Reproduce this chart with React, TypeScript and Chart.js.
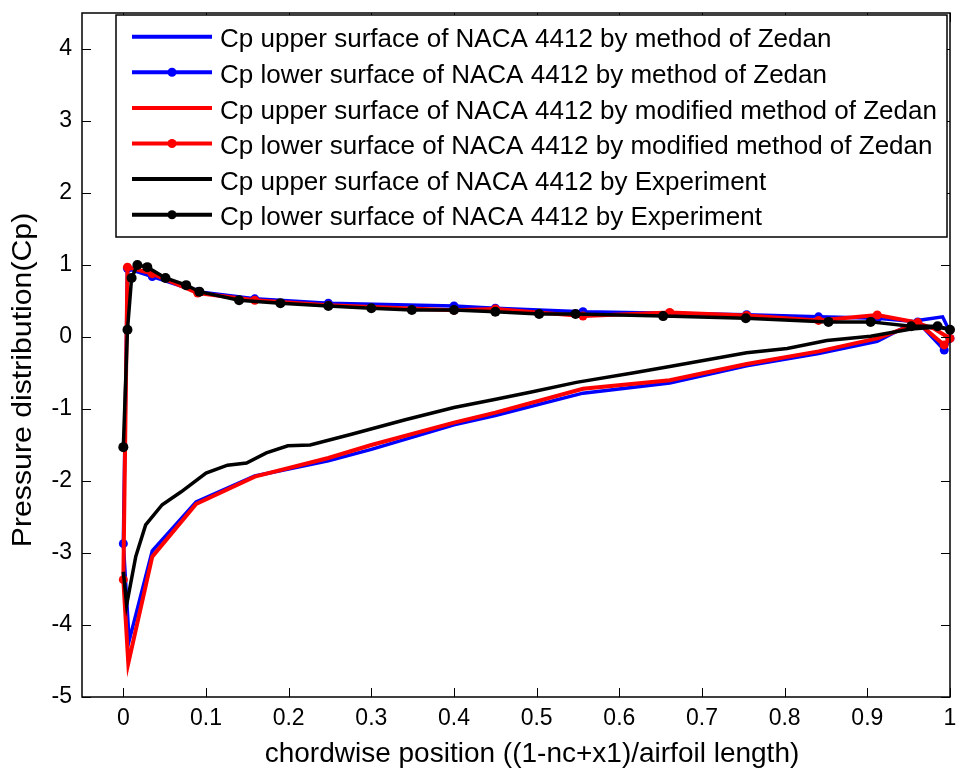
import React, { useEffect, useRef } from 'react';
import { Chart, registerables } from 'chart.js';

Chart.register(...registerables);

// ---- tick values / labels ----
const xTickValues = [0, 0.1, 0.2, 0.3, 0.4, 0.5, 0.6, 0.7, 0.8, 0.9, 1];
const xTickLabels = ['0', '0.1', '0.2', '0.3', '0.4', '0.5', '0.6', '0.7', '0.8', '0.9', '1'];
const yTickValues = [-5, -4, -3, -2, -1, 0, 1, 2, 3, 4];
const yTickLabels = ['-5', '-4', '-3', '-2', '-1', '0', '1', '2', '3', '4'];

// ---- series: method of Zedan (blue) ----
const xZedanUpper = [0, 0.007, 0.035, 0.088, 0.159, 0.248, 0.30, 0.40, 0.45, 0.556, 0.661, 0.754, 0.841, 0.912, 0.961, 0.991, 1.0];
const cpZedanUpper = [-2.87, -4.22, -2.97, -2.29, -1.93, -1.72, -1.56, -1.22, -1.09, -0.78, -0.64, -0.40, -0.23, -0.06, 0.23, 0.28, 0.07];
const xZedanLower = [0, 0.005, 0.035, 0.09, 0.159, 0.248, 0.40, 0.45, 0.556, 0.661, 0.754, 0.841, 0.912, 0.961, 0.993, 1.0];
const cpZedanLower = [-2.87, 0.95, 0.84, 0.63, 0.53, 0.47, 0.43, 0.40, 0.35, 0.33, 0.31, 0.28, 0.26, 0.21, -0.18, -0.02];

// ---- series: modified method of Zedan (red) ----
const xModUpper = [0, 0.006, 0.035, 0.088, 0.159, 0.248, 0.30, 0.40, 0.45, 0.556, 0.661, 0.754, 0.841, 0.912, 0.961, 0.98, 1.0];
const cpModUpper = [-3.37, -4.53, -3.05, -2.32, -1.94, -1.68, -1.50, -1.19, -1.05, -0.72, -0.60, -0.375, -0.20, -0.02, 0.19, 0.12, -0.02];
const xModLower = [0, 0.005, 0.035, 0.09, 0.159, 0.248, 0.40, 0.45, 0.556, 0.661, 0.754, 0.841, 0.912, 0.961, 0.993, 1.0];
const cpModLower = [-3.37, 0.97, 0.88, 0.61, 0.51, 0.44, 0.37, 0.39, 0.29, 0.34, 0.30, 0.23, 0.305, 0.20, -0.11, -0.02];

// ---- series: experiment (black) ----
const xExpUpper = [0, 0.004, 0.015, 0.027, 0.047, 0.07, 0.1, 0.126, 0.149, 0.173, 0.199, 0.226, 0.276, 0.341, 0.40, 0.446, 0.495, 0.548, 0.616, 0.661, 0.754, 0.803, 0.851, 0.904, 0.953, 0.985, 1.0];
const cpExpUpper = [-3.26, -3.72, -3.05, -2.61, -2.33, -2.15, -1.89, -1.78, -1.75, -1.61, -1.51, -1.50, -1.35, -1.15, -0.98, -0.875, -0.76, -0.63, -0.50, -0.41, -0.22, -0.16, -0.05, 0.01, 0.11, 0.14, 0.10];
const xExpLower = [0, 0.005, 0.01, 0.017, 0.029, 0.051, 0.076, 0.092, 0.14, 0.19, 0.248, 0.30, 0.349, 0.40, 0.45, 0.503, 0.547, 0.653, 0.753, 0.853, 0.904, 0.953, 0.985, 1.0];
const cpExpLower = [-1.53, 0.10, 0.82, 1.00, 0.97, 0.82, 0.72, 0.63, 0.51, 0.47, 0.43, 0.40, 0.375, 0.375, 0.35, 0.32, 0.32, 0.29, 0.26, 0.21, 0.21, 0.15, 0.15, 0.10];

const seriesLabels = [
  'Cp upper surface of NACA 4412 by method of Zedan',
  'Cp lower surface of NACA 4412 by method of Zedan',
  'Cp upper surface of NACA 4412 by modified method of Zedan',
  'Cp lower surface of NACA 4412 by modified method of Zedan',
  'Cp upper surface of NACA 4412 by Experiment',
  'Cp lower surface of NACA 4412 by Experiment',
];

const xTitle = 'chordwise position ((1-nc+x1)/airfoil length)';
const yTitle = 'Pressure distribution(Cp)';

const FONT = '"Liberation Sans", Arial, sans-serif';

const toPts = (xs: number[], ys: number[]) => xs.map((x, i) => ({ x, y: ys[i] }));

const matlabPlugin = {
  id: 'matlabDecor',
  afterDraw(chart: any) {
    const { ctx, chartArea: a, scales } = chart;
    ctx.save();
    // axes box
    ctx.strokeStyle = '#000';
    ctx.lineWidth = 1.5;
    ctx.strokeRect(a.left, a.top, a.right - a.left, a.bottom - a.top);
    // inward ticks on all sides
    const tl = 9;
    ctx.lineWidth = 1;
    ctx.beginPath();
    scales.x.ticks.forEach((t: any) => {
      const px = Math.round(scales.x.getPixelForValue(t.value)) + 0.5;
      ctx.moveTo(px, a.bottom); ctx.lineTo(px, a.bottom - tl);
      ctx.moveTo(px, a.top); ctx.lineTo(px, a.top + tl);
    });
    scales.y.ticks.forEach((t: any) => {
      const py = Math.round(scales.y.getPixelForValue(t.value)) + 0.5;
      ctx.moveTo(a.left, py); ctx.lineTo(a.left + tl, py);
      ctx.moveTo(a.right, py); ctx.lineTo(a.right - tl, py);
    });
    ctx.stroke();

    // legend
    const lx = 116, ly = 15, lw = 831, lh = 222;
    ctx.fillStyle = '#fff';
    ctx.fillRect(lx, ly, lw, lh);
    ctx.strokeStyle = '#000';
    ctx.lineWidth = 1.5;
    ctx.strokeRect(lx, ly, lw, lh);
    const rowH = 35.6;
    chart.data.datasets.forEach((ds: any, i: number) => {
      const cy = ly + 21.7 + i * rowH;
      ctx.strokeStyle = ds.borderColor;
      ctx.lineWidth = 4;
      ctx.beginPath();
      ctx.moveTo(lx + 16, cy);
      ctx.lineTo(lx + 96, cy);
      ctx.stroke();
      if (ds.pointRadius > 0) {
        ctx.fillStyle = ds.borderColor;
        ctx.beginPath();
        ctx.arc(lx + 56, cy, 4.5, 0, Math.PI * 2);
        ctx.fill();
      }
      ctx.fillStyle = '#000';
      ctx.font = `26px ${FONT}`;
      ctx.textBaseline = 'middle';
      ctx.textAlign = 'left';
      ctx.fillText(ds.label, lx + 104, cy + 3.5);
    });

    // axis titles
    ctx.fillStyle = '#000';
    ctx.font = `28px ${FONT}`;
    ctx.textAlign = 'center';
    ctx.textBaseline = 'middle';
    ctx.fillText(xTitle, (a.left + a.right) / 2 + 16, 754);
    ctx.translate(23, 380);
    ctx.rotate(-Math.PI / 2);
    ctx.scale(1.08, 1);
    ctx.fillText(yTitle, 0, 0);
    ctx.restore();
  },
};

export default function App() {
  const ref = useRef<HTMLCanvasElement | null>(null);
  useEffect(() => {
    if (!ref.current) return;
    const mk = (i: number, xs: number[], ys: number[], color: string, width: number, radius: number, order: number) => ({
      label: seriesLabels[i],
      data: toPts(xs, ys),
      borderColor: color,
      backgroundColor: color,
      borderWidth: width,
      pointRadius: radius,
      pointBorderWidth: 0,
      pointHoverRadius: radius,
      pointBackgroundColor: color,
      tension: 0,
      clip: false as any,
      order,
    });
    const chart = new Chart(ref.current, {
      type: 'line',
      data: {
        datasets: [
          mk(0, xZedanUpper, cpZedanUpper, '#0000ff', 3.5, 0, 6),
          mk(1, xZedanLower, cpZedanLower, '#0000ff', 3.5, 4.5, 5),
          mk(2, xModUpper, cpModUpper, '#ff0000', 4, 0, 4),
          mk(3, xModLower, cpModLower, '#ff0000', 4, 4.5, 3),
          mk(4, xExpUpper, cpExpUpper, '#000000', 3.5, 0, 2),
          mk(5, xExpLower, cpExpLower, '#000000', 3.5, 5, 1),
        ],
      },
      options: {
        animation: false,
        responsive: false,
        devicePixelRatio: 1,
        layout: { padding: { left: 0, right: 7, top: 13, bottom: 0 } },
        plugins: { legend: { display: false }, tooltip: { enabled: false } },
        events: [],
        scales: {
          x: {
            type: 'linear',
            min: -0.05,
            max: 1,
            afterBuildTicks: (s: any) => { s.ticks = xTickValues.map((v) => ({ value: v })); },
            afterFit: (s: any) => {
              s.height = 74;
              s.paddingLeft = 0; s.paddingRight = 0; s.paddingTop = 0; s.paddingBottom = 0;
            },
            grid: { display: false, drawTicks: false },
            border: { display: false },
            ticks: {
              padding: 8,
              color: '#000',
              font: { family: FONT, size: 23 },
              callback: (v: any) => { const k = xTickValues.indexOf(v); return k >= 0 ? xTickLabels[k] : ''; },
              maxRotation: 0,
              autoSkip: false,
            },
          },
          y: {
            type: 'linear',
            min: -5,
            max: 4.5,
            afterBuildTicks: (s: any) => { s.ticks = yTickValues.map((v) => ({ value: v })); },
            afterFit: (s: any) => {
              s.width = 82;
              s.paddingLeft = 0; s.paddingRight = 0; s.paddingTop = 0; s.paddingBottom = 0;
            },
            grid: { display: false, drawTicks: false },
            border: { display: false },
            ticks: {
              padding: 10,
              color: '#000',
              font: { family: FONT, size: 23 },
              callback: (v: any) => { const k = yTickValues.indexOf(v); return k >= 0 ? yTickLabels[k] : ''; },
              autoSkip: false,
            },
          },
        },
      },
      plugins: [matlabPlugin],
    });
    return () => chart.destroy();
  }, []);
  return (
    <div style={{ position: 'absolute', left: 0, top: 0, width: 957, height: 771, background: '#fff' }}>
      <canvas ref={ref} width={957} height={771} style={{ display: 'block', width: 957, height: 771 }} />
    </div>
  );
}
